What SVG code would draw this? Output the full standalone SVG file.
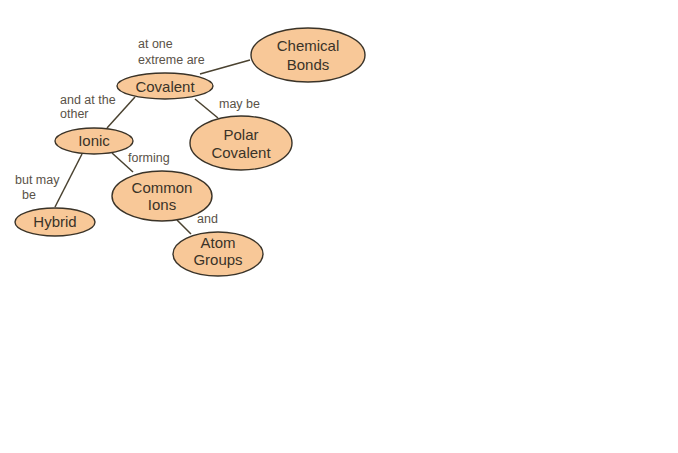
<svg xmlns="http://www.w3.org/2000/svg" width="678" height="453" viewBox="0 0 678 453">
<style>
.node ellipse{fill:#f8c898;stroke:#3a3328;stroke-width:1.4}
.node text{font-family:"Liberation Sans",Arial,sans-serif;font-size:15px;fill:#3a3328;text-anchor:middle}
.lbl{font-family:"Liberation Sans",Arial,sans-serif;font-size:12.5px;fill:#5a5248}
.edges line{stroke:#4a4230;stroke-width:1.5}
</style>
<rect width="678" height="453" fill="#ffffff"/>
<g id="connectors" class="edges">
<line x1="250" y1="60" x2="200" y2="74"/>
<line x1="135" y1="97" x2="107" y2="128"/>
<line x1="195" y1="99" x2="218" y2="118"/>
<line x1="82" y1="154" x2="55" y2="207"/>
<line x1="112" y1="153" x2="133" y2="172"/>
<line x1="177" y1="220" x2="191" y2="234"/>
</g>
<g id="labels">
<text class="lbl" x="138" y="48">at one</text>
<text class="lbl" x="138" y="64">extreme are</text>
<text class="lbl" x="60" y="104">and at the</text>
<text class="lbl" x="60" y="118">other</text>
<text class="lbl" x="219" y="108">may be</text>
<text class="lbl" x="128" y="162">forming</text>
<text class="lbl" x="15" y="184">but may</text>
<text class="lbl" x="22" y="199">be</text>
<text class="lbl" x="197" y="223">and</text>
</g>
<g id="node-chemical-bonds" class="node">
<ellipse cx="308" cy="55" rx="57" ry="27"/>
<text x="308" y="51">Chemical</text>
<text x="308" y="70">Bonds</text>
</g>
<g id="node-covalent" class="node">
<ellipse cx="165" cy="86" rx="48" ry="13"/>
<text x="165" y="92">Covalent</text>
</g>
<g id="node-ionic" class="node">
<ellipse cx="94" cy="141" rx="39" ry="13"/>
<text x="94" y="146">Ionic</text>
</g>
<g id="node-polar-covalent" class="node">
<ellipse cx="241" cy="143" rx="51" ry="27"/>
<text x="241" y="140">Polar</text>
<text x="241" y="158">Covalent</text>
</g>
<g id="node-common-ions" class="node">
<ellipse cx="162" cy="196" rx="50" ry="25"/>
<text x="162" y="193">Common</text>
<text x="162" y="210">Ions</text>
</g>
<g id="node-hybrid" class="node">
<ellipse cx="55" cy="222" rx="40" ry="14"/>
<text x="55" y="227">Hybrid</text>
</g>
<g id="node-atom-groups" class="node">
<ellipse cx="218" cy="254" rx="45" ry="22"/>
<text x="218" y="248">Atom</text>
<text x="218" y="265">Groups</text>
</g>
</svg>
